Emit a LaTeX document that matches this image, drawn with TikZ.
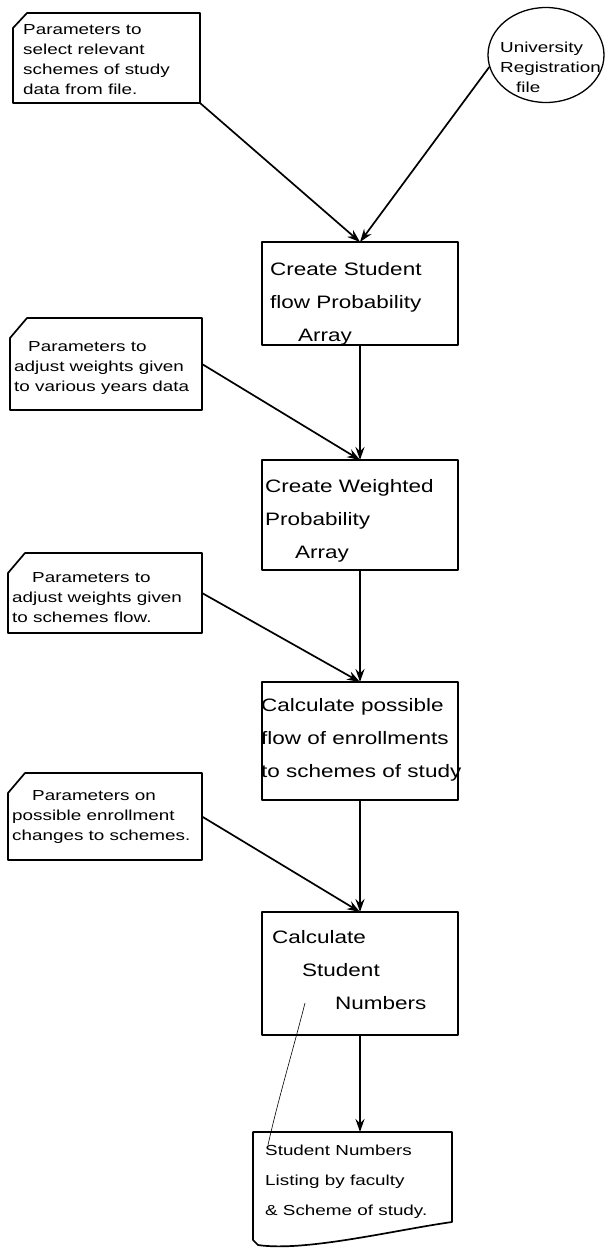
\documentclass[tikz,border=0pt]{standalone}
\usepackage{fontspec}
\newfontfamily\hand[FakeStretch=1.3]{Liberation Sans}
\newfontfamily\handbox[FakeStretch=1.25]{Liberation Sans}
\usetikzlibrary{arrows.meta,shapes.geometric,calc}
\begin{document}
\begin{tikzpicture}[x=1pt,y=-1pt,
  ink/.style={line width=1.7pt, black, line join=round},
  arr/.style={ink,-{Stealth[length=13pt,width=9pt]}},
  blank/.style={inner sep=0pt, outer sep=0pt},
  proc/.style={draw, ink, inner sep=0pt, outer sep=0pt, minimum width=196pt},
  cardtext/.style={inner sep=0pt, align=left, anchor=west, font=\hand\fontsize{14.5}{20}\selectfont},
  boxtext/.style={inner sep=0pt, align=left, anchor=west, font=\handbox\fontsize{18}{33}\selectfont},
  doctext/.style={inner sep=0pt, align=left, anchor=west, font=\hand\fontsize{14.5}{30}\selectfont},
  thinline/.style={line width=0.6pt, black}
]
\fill[white] (0,0) rectangle (605,1253);
\useasboundingbox (0,0) rectangle (605,1253);

% ---------- input cards ----------
\node[blank, minimum width=187pt, minimum height=90pt] (c1) at (106.5,58) {};
\draw[ink] ([yshift=-15pt]c1.north west) -- ([xshift=14pt]c1.north west) -- (c1.north east) -- (c1.south east) -- (c1.south west) -- cycle;
\node[cardtext] (c1t) at (23,60) {Parameters to\\select relevant\\schemes of study\\data from file.};

\node[blank, minimum width=192pt, minimum height=92pt] (c2) at (106,364) {};
\draw[ink] ([yshift=-20pt]c2.north west) -- ([xshift=17pt]c2.north west) -- (c2.north east) -- (c2.south east) -- (c2.south west) -- cycle;
\node[cardtext] (c2t) at (14,368) {\hspace*{14pt}Parameters to\\adjust weights given\\to various years data};

\node[blank, minimum width=194pt, minimum height=80pt] (c3) at (105,593) {};
\draw[ink] ([yshift=-20pt]c3.north west) -- ([xshift=17pt]c3.north west) -- (c3.north east) -- (c3.south east) -- (c3.south west) -- cycle;
\node[cardtext] (c3t) at (12,598) {\hspace*{20pt}Parameters to\\adjust weights given\\to schemes flow.};

\node[blank, minimum width=194pt, minimum height=87pt] (c4) at (105,816.5) {};
\draw[ink] ([yshift=-20pt]c4.north west) -- ([xshift=17pt]c4.north west) -- (c4.north east) -- (c4.south east) -- (c4.south west) -- cycle;
\node[cardtext] (c4t) at (12,817) {\hspace*{20pt}Parameters on\\possible enrollment\\changes to schemes.};

% ---------- registration file ----------
\node[ellipse, draw, line width=1.3pt, minimum width=116pt, minimum height=95pt, inner sep=0pt] (u) at (546,55) {};
\node[cardtext] (ut) at (500,67) {University\\Registration\\\hspace*{16pt}file};

% ---------- process boxes ----------
\node[proc, minimum height=103pt] (b1) at (360,293.5) {};
\node[boxtext] (b1t) at (270,304) {Create Student\\flow Probability\\\hspace*{28pt}Array};

\node[proc, minimum height=110pt] (b2) at (360,515) {};
\node[boxtext] (b2t) at (265,521) {Create Weighted\\Probability\\\hspace*{30pt}Array};

\node[proc, minimum height=118pt] (b3) at (360,741) {};
\node[boxtext] (b3t) at (261,740) {Calculate possible\\flow of enrollments\\to schemes of study};

\node[proc, minimum height=123pt] (b4) at (360,973.5) {};
\node[boxtext] (b4t) at (272,970) {Calculate\\\hspace*{30pt}Student\\\hspace*{63pt}Numbers};

% ---------- output document ----------
\node[blank, minimum width=199pt, minimum height=113pt] (d) at (352.5,1188.5) {};
\draw[ink] ($(d.south west)+(0,-5)$) -- (d.north west) -- (d.north east) -- ($(d.south east)+(0,-23)$)
  .. controls (395,1230) and (305,1252) .. ($(d.south west)+(5,0)$) -- cycle;
\node[doctext] (dt) at (265,1182) {Student Numbers\\Listing by faculty\\\& Scheme of study.};

% ---------- thin stray line ----------
\coordinate (t1) at (305,1003);
\coordinate (t2) at (268,1145);
\draw[thinline] (t1) .. controls (293,1050) and (278,1100) .. (t2);

% ---------- connectors ----------
\draw[arr] (c1.south east) -- (b1.north);
\draw[arr] (u.192) -- (b1.north);
\draw[arr] (b1.south) -- (b2.north);
\draw[arr] (c2.east) -- (b2.north);
\draw[arr] (b2.south) -- (b3.north);
\draw[arr] (c3.east) -- (b3.north);
\draw[arr] (b3.south) -- (b4.north);
\draw[arr] (c4.east) -- (b4.north);
\draw[arr] (b4.south) -- (b4.south |- d.north);
\end{tikzpicture}
\end{document}
